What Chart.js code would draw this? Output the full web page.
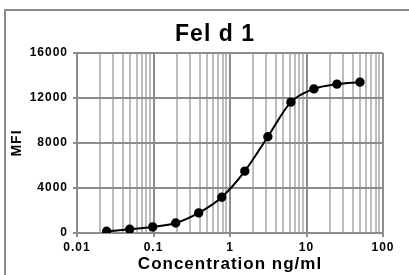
<!DOCTYPE html>
<html>
<head>
<meta charset="utf-8">
<script src="https://cdn.jsdelivr.net/npm/chart.js@4"></script>
<style>
  html, body { margin: 0; padding: 0; background: #fff; }
  canvas { display: block; }
</style>
</head>
<body>
<canvas id="feldChart" width="409" height="275"></canvas>
<script>
// values
const conc = [0.0244, 0.0488, 0.0977, 0.195, 0.39, 0.78, 1.5625, 3.125, 6.25, 12.5, 25, 50];
const mfi = [150, 330, 540, 890, 1790, 3180, 5500, 8560, 11630, 12810, 13230, 13410];
const xDecades = [0.01, 0.1, 1, 10, 100];
const yTicks = [0, 4000, 8000, 12000, 16000];
const chartTitle = 'Fel d 1';

const FONT = "'Liberation Sans', Arial, sans-serif";
const MAJOR = '#8c8c8c';
const MINOR = '#bdbdbd';

// frame, spaced-out text and the title (centred on the wider original frame)
const decor = {
  id: 'decor',
  beforeUpdate(c) { c.ctx.letterSpacing = '1px'; },
  beforeDraw(c) {
    const ctx = c.ctx;
    ctx.letterSpacing = '1px';
    ctx.save();
    ctx.strokeStyle = MAJOR;
    ctx.lineWidth = 2;
    ctx.strokeRect(5, 10, 600, 600);
    ctx.fillStyle = '#000';
    ctx.font = 'bold 23px ' + FONT;
    ctx.textAlign = 'center';
    ctx.textBaseline = 'middle';
    ctx.fillText(chartTitle, 215, 35);
    ctx.restore();
  }
};

const points = conc.map((c, i) => ({ x: c, y: mfi[i] }));

new Chart(document.getElementById('feldChart'), {
  type: 'line',
  data: {
    datasets: [{
      data: points,
      borderColor: '#000',
      borderWidth: 2,
      backgroundColor: '#000',
      pointRadius: 3.7,
      pointHoverRadius: 3.7,
      cubicInterpolationMode: 'monotone'
    }]
  },
  options: {
    responsive: false,
    animation: false,
    layout: { padding: { left: 0, right: 26, top: 53, bottom: 0 } },
    plugins: {
      legend: { display: false },
      tooltip: { enabled: false }
    },
    scales: {
      x: {
        type: 'logarithmic',
        min: 0.01,
        max: 100,
        afterBuildTicks(s) {
          const t = [];
          xDecades.forEach((d, i) => {
            t.push({ value: d, major: true });
            if (i < xDecades.length - 1) {
              for (let k = 2; k <= 9; k++) t.push({ value: d * k, major: false });
            }
          });
          s.ticks = t;
        },
        afterFit(s) { s.height = 42; },
        border: { color: MAJOR, width: 2 },
        grid: {
          color: c => (c.tick && c.tick.major ? MAJOR : MINOR),
          lineWidth: 2,
          tickLength: 4,
          tickColor: c => (c.tick && c.tick.major ? MAJOR : 'rgba(0,0,0,0)')
        },
        ticks: {
          autoSkip: false,
          maxRotation: 0,
          padding: 3,
          color: '#000',
          font: { family: FONT, size: 12, weight: 'bold' },
          callback(v) { return xDecades.includes(v) ? String(v) : ''; }
        },
        title: {
          display: true,
          text: 'Concentration ng/ml',
          color: '#000',
          font: { family: FONT, size: 17, weight: 'bold' },
          padding: { top: 0, bottom: 0 }
        }
      },
      y: {
        min: 0,
        max: 16000,
        afterBuildTicks(s) { s.ticks = yTicks.map(v => ({ value: v })); },
        afterFit(s) { s.width = 77; },
        border: { color: MAJOR, width: 2 },
        grid: { color: MAJOR, lineWidth: 2, tickLength: 4, tickColor: MAJOR },
        ticks: {
          padding: 5,
          color: '#000',
          font: { family: FONT, size: 12, weight: 'bold' },
          callback(v) { return String(v); }
        },
        title: {
          display: true,
          text: 'MFI',
          color: '#000',
          font: { family: FONT, size: 14, weight: 'bold' },
          padding: { top: 9, bottom: 0 }
        }
      }
    }
  },
  plugins: [decor]
});
</script>
</body>
</html>
